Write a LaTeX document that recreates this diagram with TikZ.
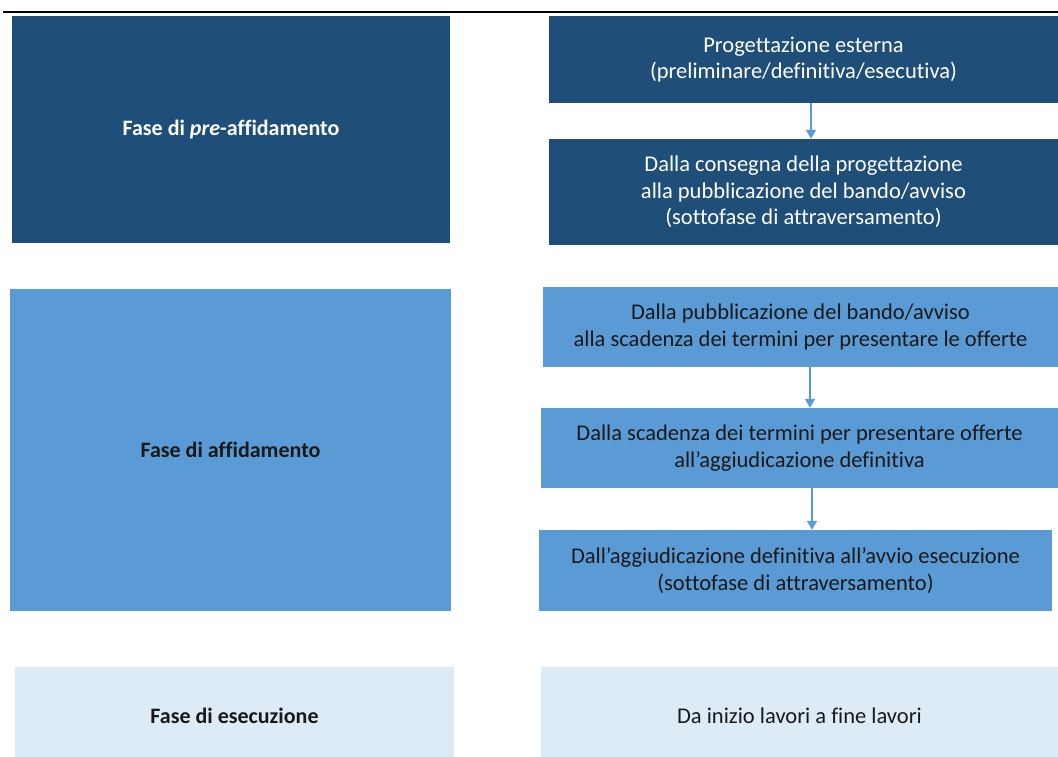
\documentclass[tikz,border=0pt]{standalone}
\usepackage{fontspec}
\setmainfont{Carlito}[Ligatures=NoCommon]
\usetikzlibrary{arrows.meta}
\definecolor{darkblue}{HTML}{1F4E79}
\definecolor{midblue}{HTML}{5B9BD5}
\definecolor{paleblue}{HTML}{DDEBF7}
\tikzset{
  phase/.style={inner sep=0pt, align=center, font=\fontsize{22}{26.5}\selectfont\bfseries},
  stage/.style={inner sep=0pt, align=center, font=\fontsize{22.5}{26.5}\selectfont},
  darkbox/.style={fill=darkblue, text=white},
  midbox/.style={fill=midblue, text=black!90},
  palebox/.style={fill=paleblue, text=black!90},
  flow/.style={draw=midblue, line width=1.5pt, -{Triangle[width=10pt,length=9pt]}},
}
\begin{document}
\begin{tikzpicture}[x=1pt,y=-1pt]
\useasboundingbox (0,0) rectangle (1058,756);
\clip (0,0) rectangle (1058,756);

% rule under the caption
\coordinate (ruleL) at (3,12);
\coordinate (ruleR) at (1058,12);
\draw[line width=2pt] (ruleL) -- (ruleR);

% phases (left column)
\node[phase, darkbox, minimum width=438, minimum height=227] (pre) at (231,129.5) {Fase di \textit{pre}-affidamento};
\node[phase, midbox, minimum width=441, minimum height=322] (aff) at (230.5,450) {Fase di affidamento};
\node[phase, palebox, minimum width=439, minimum height=98] (ese) at (234.5,716) {Fase di esecuzione};

% sub-phases (right column)
\node[stage, darkbox, minimum width=509, minimum height=87] (s1) at (803.5,59.5)
  {Progettazione esterna\\(preliminare/definitiva/esecutiva)};
\node[stage, darkbox, minimum width=509, minimum height=106] (s2) at (803.5,192)
  {Dalla consegna della progettazione\\alla pubblicazione del bando/avviso\\(sottofase di attraversamento)};
\node[stage, midbox, minimum width=515, minimum height=80] (s3) at (800.5,327)
  {Dalla pubblicazione del bando/avviso\\alla scadenza dei termini per presentare le offerte};
\node[stage, midbox, minimum width=517, minimum height=80] (s4) at (799.5,448)
  {Dalla scadenza dei termini per presentare offerte\\all’aggiudicazione definitiva};
\node[stage, midbox, minimum width=513, minimum height=81] (s5) at (795.5,570.5)
  {Dall’aggiudicazione definitiva all’avvio esecuzione\\(sottofase di attraversamento)};
\node[stage, palebox, minimum width=517, minimum height=98] (s6) at (799.5,716)
  {Da inizio lavori a fine lavori};

% sequence arrows
\draw[flow] ([xshift=7.5pt]s1.south) -- ([xshift=7.5pt]s1.south |- s2.north);
\draw[flow] ([xshift=9.5pt]s3.south) -- ([xshift=9.5pt]s3.south |- s4.north);
\draw[flow] ([xshift=12.5pt]s4.south) -- ([xshift=12.5pt]s4.south |- s5.north);
\end{tikzpicture}
\end{document}
